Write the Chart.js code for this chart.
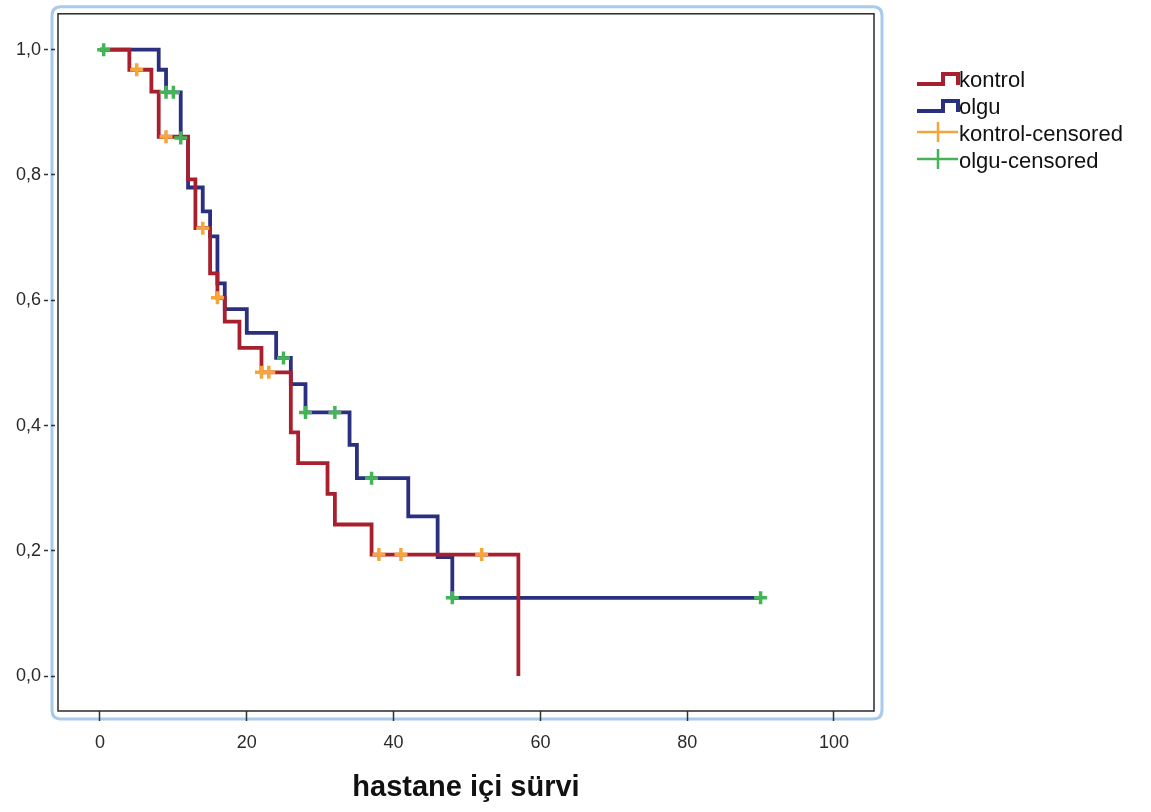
<!DOCTYPE html>
<html><head><meta charset="utf-8">
<script src="https://cdn.jsdelivr.net/npm/chart.js@4.4.1/dist/chart.umd.min.js"></script>
<style>html,body{margin:0;padding:0;background:#fff;}#wrap{width:1151px;height:812px;}</style>
</head><body><div id="wrap"><canvas id="c" width="1151" height="812"></canvas></div>
<script>
// ---- data ----
const xTickValues = [0, 20, 40, 60, 80, 100];
const yTickValues = [0, 0.2, 0.4, 0.6, 0.8, 1.0];
const xTitle = 'hastane içi sürvi';
const seriesNames = ['kontrol', 'olgu', 'kontrol-censored', 'olgu-censored'];

const kontrolTimes = [0, 4, 7, 8, 12, 13, 15, 16, 17, 19, 22, 26, 27, 31, 32, 37, 57];
const kontrolSurv  = [1, 0.968, 0.933, 0.861, 0.793, 0.715, 0.643, 0.604, 0.566, 0.524, 0.485, 0.389, 0.340, 0.291, 0.242, 0.194, 0];
const olguTimes = [0, 8, 9, 11, 12, 14, 15, 16, 17, 20, 24, 26, 28, 34, 35, 42, 46, 48, 90];
const olguSurv  = [1, 0.968, 0.932, 0.859, 0.780, 0.742, 0.702, 0.627, 0.586, 0.548, 0.508, 0.466, 0.421, 0.369, 0.316, 0.255, 0.190, 0.125, 0.125];
const kontrolCensTimes = [5, 9, 14, 16, 22, 23, 38, 41, 52];
const kontrolCensSurv  = [0.968, 0.861, 0.715, 0.604, 0.485, 0.485, 0.194, 0.194, 0.194];
const olguCensTimes = [0.5, 9, 10, 11, 25, 28, 32, 37, 48, 90];
const olguCensSurv  = [1, 0.932, 0.932, 0.859, 0.508, 0.421, 0.421, 0.316, 0.125, 0.125];

const colors = { kontrol: '#a81f2e', olgu: '#2b2f80', kontrolC: '#f6a53b', olguC: '#44b556' };
const toPts = (xs, ys) => xs.map((x, i) => ({ x: x, y: ys[i] }));

function roundRect(ctx, x, y, w, h, r) {
  ctx.beginPath();
  ctx.moveTo(x + r, y);
  ctx.lineTo(x + w - r, y); ctx.quadraticCurveTo(x + w, y, x + w, y + r);
  ctx.lineTo(x + w, y + h - r); ctx.quadraticCurveTo(x + w, y + h, x + w - r, y + h);
  ctx.lineTo(x + r, y + h); ctx.quadraticCurveTo(x, y + h, x, y + h - r);
  ctx.lineTo(x, y + r); ctx.quadraticCurveTo(x, y, x + r, y);
  ctx.closePath();
}

const framePlugin = {
  id: 'frame',
  beforeDraw(chart) {
    const { ctx, chartArea: a } = chart;
    ctx.save();
    ctx.fillStyle = '#ffffff';
    ctx.fillRect(0, 0, chart.width, chart.height);
    ctx.strokeStyle = '#a8cbeb';
    ctx.lineWidth = 3;
    roundRect(ctx, a.left - 6, a.top - 7, a.right - a.left + 14, a.bottom - a.top + 15, 9);
    ctx.stroke();
    ctx.restore();
  },
  beforeDatasetsDraw(chart) {
    const { ctx, chartArea: a } = chart;
    ctx.save();
    ctx.strokeStyle = '#2a2a2a';
    ctx.lineWidth = 1.5;
    ctx.strokeRect(a.left, a.top, a.right - a.left, a.bottom - a.top);
    ctx.restore();
  },
  afterDraw(chart) {
    const { ctx } = chart;
    const lx = 917, textX = 959, base0 = 87, rowH = 27;
    const items = [
      { label: seriesNames[0], kind: 'step', color: colors.kontrol },
      { label: seriesNames[1], kind: 'step', color: colors.olgu },
      { label: seriesNames[2], kind: 'cens', color: colors.kontrolC },
      { label: seriesNames[3], kind: 'cens', color: colors.olguC }
    ];
    ctx.save();
    items.forEach((it, i) => {
      const b = base0 + i * rowH;
      ctx.strokeStyle = it.color;
      if (it.kind === 'step') {
        ctx.lineWidth = 4;
        ctx.beginPath();
        ctx.moveTo(lx, b - 3);
        ctx.lineTo(lx + 26, b - 3);
        ctx.lineTo(lx + 26, b - 13);
        ctx.lineTo(lx + 41, b - 13);
        ctx.lineTo(lx + 41, b - 2);
        ctx.stroke();
      } else {
        ctx.lineWidth = 2.5;
        ctx.beginPath();
        ctx.moveTo(lx, b - 9); ctx.lineTo(lx + 41, b - 9);
        ctx.moveTo(lx + 21, b - 19); ctx.lineTo(lx + 21, b + 1);
        ctx.stroke();
      }
      ctx.fillStyle = '#111';
      ctx.font = '22px "Liberation Sans", Arial, sans-serif';
      ctx.textBaseline = 'alphabetic';
      ctx.textAlign = 'left';
      ctx.fillText(it.label, textX, b);
    });
    ctx.restore();
  }
};

new Chart(document.getElementById('c'), {
  type: 'line',
  data: {
    datasets: [
      { label: seriesNames[0], data: toPts(kontrolTimes, kontrolSurv), borderColor: colors.kontrol, borderWidth: 3.8,
        stepped: 'before', pointRadius: 0, fill: false, order: 2 },
      { label: seriesNames[1], data: toPts(olguTimes, olguSurv), borderColor: colors.olgu, borderWidth: 3.8,
        stepped: 'before', pointRadius: 0, fill: false, order: 3 },
      { label: seriesNames[2], data: toPts(kontrolCensTimes, kontrolCensSurv), showLine: false, pointStyle: 'cross',
        pointRadius: 6.5, pointBorderWidth: 3.5, borderColor: colors.kontrolC, backgroundColor: colors.kontrolC, order: 0 },
      { label: seriesNames[3], data: toPts(olguCensTimes, olguCensSurv), showLine: false, pointStyle: 'cross',
        pointRadius: 6.5, pointBorderWidth: 3.5, borderColor: colors.olguC, backgroundColor: colors.olguC, order: 0 }
    ]
  },
  options: {
    responsive: false,
    animation: false,
    devicePixelRatio: 1,
    layout: { padding: { left: 0, top: 12, right: 277, bottom: 0 } },
    plugins: { legend: { display: false }, tooltip: { enabled: false } },
    scales: {
      x: {
        type: 'linear', min: -5.72, max: 105.45,
        afterBuildTicks: (s) => { s.ticks = xTickValues.map(v => ({ value: v })); },
        afterFit: (s) => { s.height = 101; },
        border: { display: false },
        grid: { drawOnChartArea: false, drawTicks: true, tickLength: 10, color: '#333', tickWidth: 1.5 },
        ticks: { color: '#2a2a2a', font: { family: '"Liberation Sans", Arial, sans-serif', size: 18 }, padding: 11,
                 maxRotation: 0, autoSkip: false, callback: (v) => String(v) },
        title: { display: true, text: xTitle, color: '#111',
                 font: { family: '"Liberation Sans", Arial, sans-serif', size: 29, weight: 'bold' },
                 padding: { top: 0, bottom: 7 } }
      },
      y: {
        type: 'linear', min: -0.0557, max: 1.0573,
        afterBuildTicks: (s) => { s.ticks = yTickValues.map(v => ({ value: v })); },
        afterFit: (s) => { s.width = 58; },
        border: { display: false },
        grid: { drawOnChartArea: false, drawTicks: true, tickLength: 14, color: '#333', tickWidth: 1.5,
                tickBorderDash: [4, 3] },
        ticks: { color: '#2a2a2a', font: { family: '"Liberation Sans", Arial, sans-serif', size: 18 }, padding: 3,
                 autoSkip: false, callback: (v) => v.toFixed(1).replace('.', ',') }
      }
    }
  },
  plugins: [framePlugin]
});
</script>
</body></html>
